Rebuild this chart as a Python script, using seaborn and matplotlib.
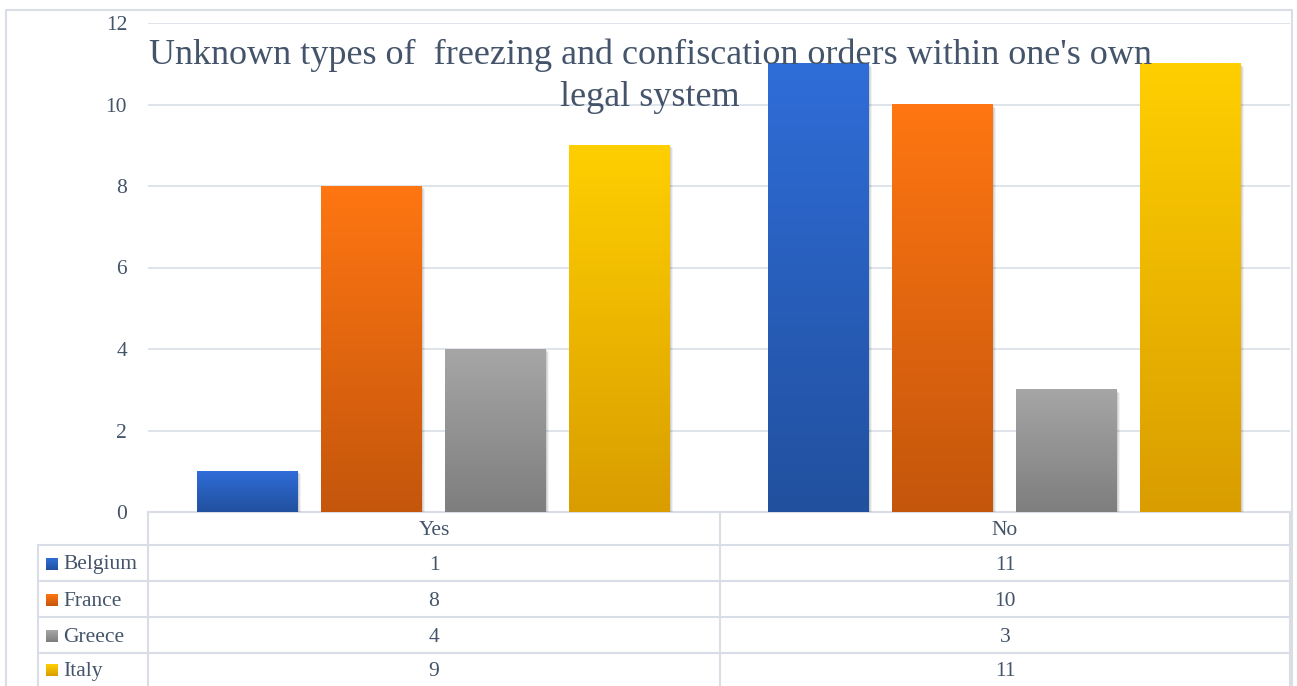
import numpy as np
import pandas as pd
import matplotlib
matplotlib.use("Agg")
import matplotlib.pyplot as plt
import seaborn as sns
from matplotlib.colors import LinearSegmentedColormap, to_rgb
from matplotlib.patches import Rectangle
from matplotlib import transforms

# ---- data ----
answers = ["Yes", "No"]
countries = ["Belgium", "France", "Greece", "Italy"]
belgium = [1, 11]
france = [8, 10]
greece = [4, 3]
italy = [9, 11]
series = [belgium, france, greece, italy]

title = "Unknown types of  freezing and confiscation orders within one's own\nlegal system"
y_ticks = [0, 2, 4, 6, 8, 10, 12]

# gradient fills: (top, bottom)
grad_top = ["#2F6DD8", "#FF7612", "#A6A6A6", "#FFCF00"]
grad_bot = ["#21509E", "#C4560C", "#7E7E7E", "#D99D00"]

text_col = "#44546A"
line_col = "#D9DEE6"
fs = 15.5

sns.set_theme(style="white")
plt.rcParams["font.family"] = ["Liberation Serif", "DejaVu Serif"]

df = pd.DataFrame(
    [(a, c, v[i]) for c, v in zip(countries, series) for i, a in enumerate(answers)],
    columns=["answer", "country", "count"],
)

W, H = 1297, 686
fig = plt.figure(figsize=(W / 100, H / 100), dpi=100)
fig.patch.set_facecolor("white")

# plot area in pixel layout
px_l, px_r, px_top, px_bot = 148, 1290, 23, 512
ax = fig.add_axes([px_l / W, 1 - px_bot / H, (px_r - px_l) / W, (px_bot - px_top) / H])

sns.barplot(
    data=df, x="answer", y="count", hue="country",
    order=answers, hue_order=countries,
    palette=grad_bot, width=0.867, gap=0.185,
    saturation=1, legend=False, ax=ax, zorder=2,
)

# replace flat bars with vertical gradients and a soft shadow
bot_rgbs = [np.array(to_rgb(c)) for c in grad_bot]
for p in list(ax.patches):
    fc = np.array(p.get_facecolor()[:3])
    k = int(np.argmin([np.abs(fc - b).sum() for b in bot_rgbs]))
    x0 = p.get_x()
    w = p.get_width()
    h = p.get_height()
    for off, a in [(3, 0.05), (2, 0.07), (1, 0.08)]:
        sh = Rectangle((x0, 0), w, h, facecolor="black", alpha=a, edgecolor="none",
                       zorder=1.5,
                       transform=transforms.offset_copy(ax.transData, fig=fig, x=off, y=-off, units="dots"))
        ax.add_patch(sh)
    cmap = LinearSegmentedColormap.from_list("g%d" % k, [grad_bot[k], grad_top[k]])
    grad = np.linspace(0, 1, 256).reshape(-1, 1)
    ax.imshow(grad, extent=[x0, x0 + w, 0, h], origin="lower", aspect="auto",
              cmap=cmap, zorder=3, interpolation="bilinear")
    p.set_visible(False)

ax.set_xlim(-0.5, 1.5)
ax.set_ylim(0, 12)
ax.set_yticks(y_ticks)
ax.set_yticklabels([str(t) for t in y_ticks], fontsize=fs, color=text_col)
ax.tick_params(axis="y", length=0, pad=15)
ax.set_xticks([])
ax.set_xlabel("")
ax.set_ylabel("")
for s in ax.spines.values():
    s.set_visible(False)
ax.yaxis.grid(True, color=line_col, linewidth=1.2, zorder=0)
ax.set_axisbelow(True)
ax.patch.set_alpha(0)

# overlay axes in pixel coordinates for border, title and data table
ov = fig.add_axes([0, 0, 1, 1], zorder=-1)
ov.set_xlim(0, W)
ov.set_ylim(H, 0)
ov.axis("off")

ov.plot([6, 6, 1292, 1292], [H + 5, 10, 10, H + 5], color=line_col, lw=1.5)

# table grid
lc = dict(color=line_col, lw=1.5)
row_edges = [512, 545, 581, 617, 653, 690]
col_edges = [148, 720, 1290]
ov.plot([148, 1290], [512, 512], **lc)
for y in row_edges[1:-1]:
    ov.plot([38, 1290], [y, y], **lc)
for x in col_edges:
    ov.plot([x, x], [512, H + 5], **lc)
ov.plot([38, 38], [545, H + 5], **lc)

col_centers = [(col_edges[i] + col_edges[i + 1]) / 2 for i in range(2)]
hdr_y = (row_edges[0] + row_edges[1]) / 2 + 2
for cx, a in zip(col_centers, answers):
    ov.text(cx, hdr_y, a, ha="center", va="center", fontsize=fs, color=text_col)

for r, (c, vals) in enumerate(zip(countries, series)):
    cy = (row_edges[r + 1] + row_edges[r + 2]) / 2
    if r == len(countries) - 1:
        cy = (row_edges[r + 1] + H) / 2
    g = np.linspace(0, 1, 64).reshape(-1, 1)
    cmap = LinearSegmentedColormap.from_list("l%d" % r, [grad_top[r], grad_bot[r]])
    ov.imshow(g, extent=[46, 58, cy + 7, cy - 5], origin="upper", aspect="auto",
              cmap=cmap, interpolation="bilinear", zorder=3)
    ov.text(63, cy + 2, c, ha="left", va="center", fontsize=fs, color=text_col)
    for cx, v in zip(col_centers, vals):
        ov.text(cx, cy + 2, str(v), ha="center", va="center", fontsize=fs, color=text_col)
ov.set_xlim(0, W)
ov.set_ylim(H, 0)

fig.text(650 / W, 1 - 76 / H, title, ha="center", va="center", fontsize=26,
         color=text_col, linespacing=1.37, zorder=10)

fig.savefig("out.png", dpi=100, facecolor="white")
